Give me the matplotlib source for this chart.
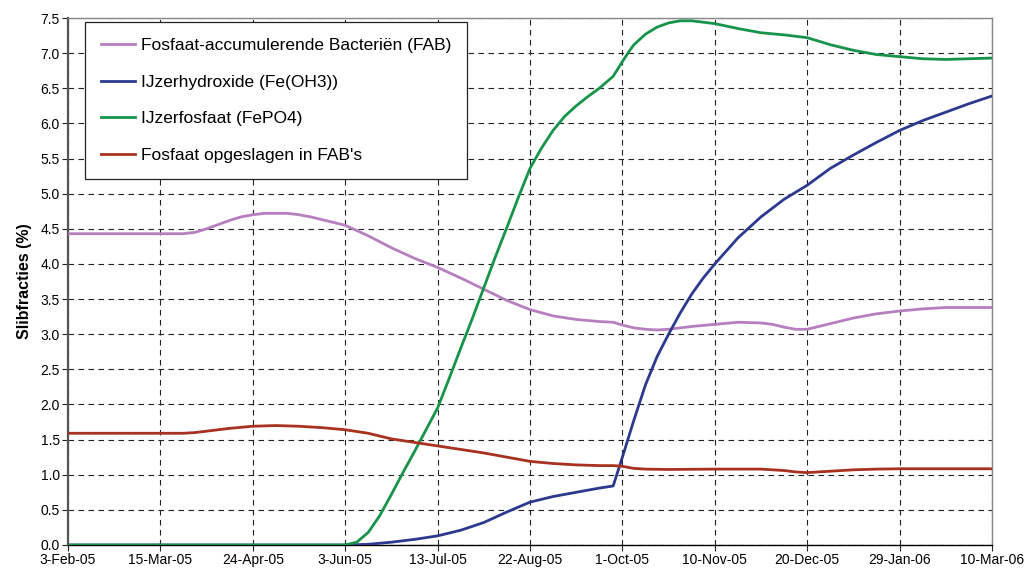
import matplotlib
matplotlib.use("Agg")
import matplotlib.pyplot as plt
import matplotlib.dates as mdates
import numpy as np
import pandas as pd

plt.rcParams['font.family'] = ['Liberation Sans', 'DejaVu Sans']

start = pd.Timestamp('2005-02-03')

# day offsets from 3-Feb-05 and values
fab_days = [0, 10, 20, 30, 40, 50, 55, 60, 65, 70, 75, 80, 85, 90, 95, 100, 105, 110, 115, 120,
            130, 140, 150, 160, 170, 180, 190, 200, 210, 220, 230, 236, 240, 245, 250, 255, 260,
            265, 270, 280, 290, 300, 305, 310, 315, 320, 330, 340, 350, 360, 370, 380, 390, 400]
fab_vals = [4.43, 4.43, 4.43, 4.43, 4.43, 4.43, 4.45, 4.50, 4.56, 4.62, 4.67, 4.70, 4.72, 4.72, 4.72, 4.70, 4.67, 4.63, 4.59, 4.55,
            4.40, 4.23, 4.08, 3.95, 3.80, 3.64, 3.48, 3.35, 3.26, 3.21, 3.18, 3.17, 3.13, 3.09, 3.07, 3.06, 3.07,
            3.09, 3.11, 3.14, 3.17, 3.16, 3.14, 3.10, 3.07, 3.07, 3.15, 3.23, 3.29, 3.33, 3.36, 3.38, 3.38, 3.38]

fe_days = [0, 120, 130, 140, 150, 160, 170, 180, 190, 195, 200, 210, 220, 230, 236,
           240, 245, 250, 255, 260, 265, 270, 275, 280, 290, 300, 310, 320, 330, 340,
           350, 360, 370, 380, 390, 400]
fe_vals = [0.0, 0.0, 0.01, 0.04, 0.08, 0.13, 0.21, 0.32, 0.47, 0.54, 0.61, 0.69, 0.75, 0.81, 0.84,
           1.25, 1.78, 2.28, 2.68, 3.00, 3.30, 3.57, 3.80, 4.00, 4.37, 4.67, 4.92, 5.12, 5.36, 5.55,
           5.73, 5.90, 6.04, 6.16, 6.28, 6.39]

fepo_days = [0, 120, 125, 130, 135, 140, 145, 150, 155, 160, 165, 170, 175, 180, 185, 190, 195, 200,
             205, 210, 215, 220, 225, 230, 236, 240, 243, 245, 250, 255, 260, 265, 270, 275, 280,
             290, 300, 310, 320, 330, 340, 350, 360, 370, 380, 390, 400]
fepo_vals = [0.0, 0.0, 0.04, 0.18, 0.42, 0.72, 1.03, 1.33, 1.64, 1.95, 2.37, 2.80, 3.22, 3.66, 4.10, 4.52, 4.95, 5.36,
             5.65, 5.90, 6.10, 6.25, 6.38, 6.50, 6.67, 6.88, 7.03, 7.12, 7.27, 7.37, 7.43, 7.46, 7.46, 7.44, 7.42,
             7.35, 7.29, 7.26, 7.22, 7.12, 7.04, 6.98, 6.95, 6.92, 6.91, 6.92, 6.93]

pfab_days = [0, 50, 55, 60, 70, 80, 90, 100, 110, 120, 130, 140, 150, 160, 170, 180, 190, 200, 210,
             220, 230, 236, 240, 245, 250, 260, 280, 300, 310, 315, 320, 330, 340, 350, 360, 400]
pfab_vals = [1.59, 1.59, 1.60, 1.62, 1.66, 1.69, 1.70, 1.69, 1.67, 1.64, 1.59, 1.51, 1.46, 1.41, 1.36, 1.31, 1.25, 1.19, 1.16,
             1.14, 1.13, 1.13, 1.12, 1.09, 1.08, 1.075, 1.08, 1.08, 1.06, 1.04, 1.03, 1.05, 1.07, 1.08, 1.085, 1.085]

series = [
    ('Fosfaat-accumulerende Bacteriën (FAB)', fab_days, fab_vals, '#b77fbf'),
    ('IJzerhydroxide (Fe(OH3))', fe_days, fe_vals, '#2b3a8f'),
    ('IJzerfosfaat (FePO4)', fepo_days, fepo_vals, '#17934a'),
    ("Fosfaat opgeslagen in FAB's", pfab_days, pfab_vals, '#a8321f'),
]

fig = plt.figure(figsize=(10.28, 5.71), dpi=100)
ax = fig.add_axes([68 / 1028, 26 / 571, 924 / 1028, 527 / 571])

for label, d, v, c in series:
    dates = start + pd.to_timedelta(np.array(d), unit='D')
    ax.plot(dates, v, color=c, linewidth=2.0, label=label, zorder=3, solid_joinstyle='round')

ticks = pd.date_range(start, periods=11, freq='40D')
ax.set_xticks(ticks)
ax.xaxis.set_major_formatter(mdates.DateFormatter('%-d-%b-%y'))
ax.set_xlim(ticks[0], ticks[-1])
ax.set_ylim(0, 7.5)
ax.set_yticks(np.arange(0, 7.51, 0.5))
ax.yaxis.set_major_formatter(plt.FormatStrFormatter('%.1f'))

ax.grid(True, color='#222222', linestyle=(0, (5, 4)), linewidth=0.8, zorder=1)
ax.tick_params(axis='both', labelsize=10, length=4, width=0.8, color='#222222', pad=2)

ax.spines['left'].set_color('#555555')
ax.spines['left'].set_linewidth(1.6)
ax.spines['bottom'].set_color('#000000')
ax.spines['bottom'].set_linewidth(1.0)
for s in ['top', 'right']:
    ax.spines[s].set_color('#888888')
    ax.spines[s].set_linewidth(1.0)

ax.set_ylabel('Slibfracties (%)', fontsize=11.5, fontweight='bold', labelpad=6)

leg = ax.legend(loc='upper left', bbox_to_anchor=(17 / 924, 1 - 4 / 527), fontsize=12.5,
                frameon=True, fancybox=False, edgecolor='#222222', framealpha=1,
                handlelength=2.0, handletextpad=0.3, labelspacing=1.25,
                borderpad=0.9, borderaxespad=0)
leg.get_frame().set_linewidth(0.9)
for line in leg.get_lines():
    line.set_linewidth(2.0)

fig.savefig('out.png', dpi=100)
